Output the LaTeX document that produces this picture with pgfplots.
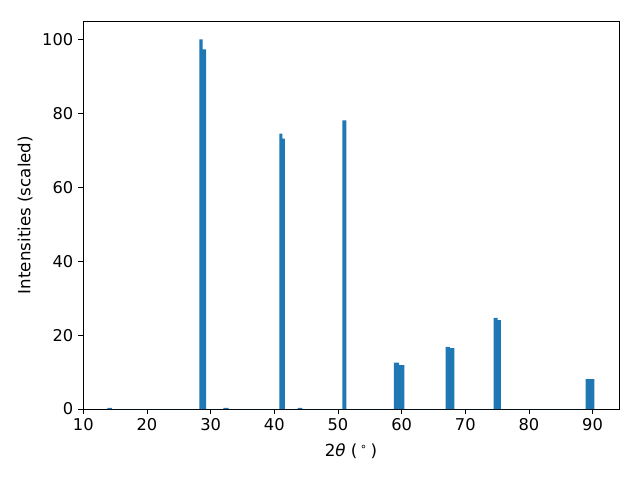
\documentclass[border=0pt]{standalone}
\usepackage{fontspec}
\setmainfont{DejaVu Sans}
\usepackage{pgfplots}
\pgfplotsset{compat=1.18}
\definecolor{mplblue}{HTML}{1F77B4}
\begin{document}
\begin{tikzpicture}
\begin{axis}[
  scale only axis,
  width=385.9pt, height=279.4pt,
  xmin=9.95, xmax=94.15, ymin=0, ymax=105,
  xtick={10,20,...,90}, ytick={0,20,...,100},
  tick align=outside, tick pos=left,
  major tick length=3.5pt,
  tick style={black, line width=0.6pt},
  axis line style={line width=0.6pt},
  ticklabel style={font=\fontsize{11.7}{14}\selectfont},
  /pgf/number format/assume math mode=true,
  label style={font=\fontsize{12}{14}\selectfont},
  xlabel={2\textit{θ} (\,\textsuperscript{∘}\,)},
  ylabel={Intensities (scaled)},
  xlabel style={yshift=-2pt},
  ylabel style={yshift=0pt},
]
\addplot[ybar interval, fill=mplblue, draw=none] coordinates {
(13.77,0.35) (14.50,0)
(28.23,100) (28.75,97.3) (29.28,0)
(32.00,0.35) (32.84,0)
(40.81,74.5) (41.28,73.2) (41.67,0)
(43.68,0.35) (44.42,0)
(50.71,78.1) (51.34,0)
(58.77,12.6) (59.59,11.9) (60.45,0)
(66.90,16.8) (67.58,16.5) (68.27,0)
(74.44,24.7) (75.07,24.1) (75.59,0)
(88.90,8.1) (89.58,8.1) (90.27,0)
};
\end{axis}
\path[use as bounding box] ([shift={(-59.76pt,-51.12pt)}]current axis.south west) rectangle ([shift={(15.12pt,15.12pt)}]current axis.north east);
\end{tikzpicture}
\end{document}
